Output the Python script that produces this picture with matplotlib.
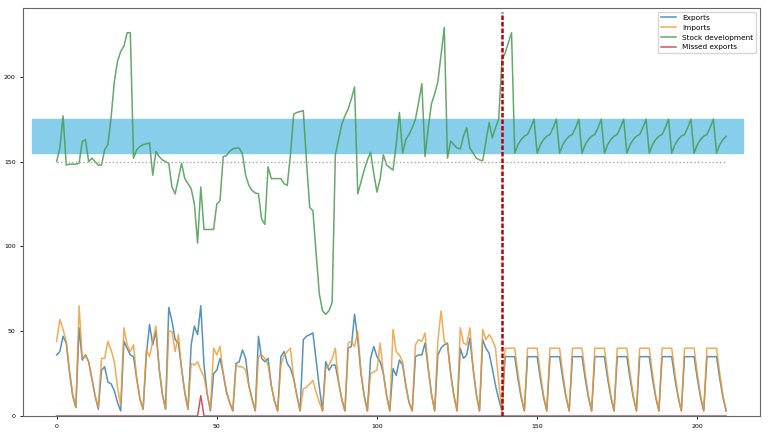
import matplotlib
matplotlib.use('Agg')
import matplotlib.pyplot as plt

days = list(range(210))

# exports per day (one row per week)
exports = [36, 38, 47, 43, 26, 12, 5,
           52, 33, 36, 32, 22, 12, 4,
           27, 29, 20, 19, 15, 8, 3,
           44, 40, 36, 35, 22, 10, 4,
           36, 54, 42, 50, 28, 13, 4,
           64, 56, 45, 43, 28, 14, 4,
           42, 53, 48, 65, 30, 13, 3,
           25, 27, 34, 25, 14, 8, 3,
           31, 32, 39, 34, 18, 10, 3,
           47, 34, 32, 34, 18, 9, 3,
           35, 38, 31, 28, 22, 12, 3,
           45, 47, 48, 49, 33, 17, 3,
           32, 27, 30, 30, 20, 10, 3,
           40, 41, 60, 45, 25, 12, 3,
           34, 41, 35, 32, 25, 12, 3,
           28, 24, 33, 30, 18, 8, 3,
           35, 36, 36, 43, 28, 13, 3,
           36, 40, 42, 43, 25, 12, 3,
           40, 34, 36, 46, 28, 13, 3,
           45, 40, 37, 28, 18, 10, 3,
           35, 35, 35, 35, 22, 11, 3,
           35, 35, 35, 35, 22, 11, 3,
           35, 35, 35, 35, 22, 11, 3,
           35, 35, 35, 35, 22, 11, 3,
           35, 35, 35, 35, 22, 11, 3,
           35, 35, 35, 35, 22, 11, 3,
           35, 35, 35, 35, 22, 11, 3,
           35, 35, 35, 35, 22, 11, 3,
           35, 35, 35, 35, 22, 11, 3,
           35, 35, 35, 35, 22, 11, 3]

imports = [44, 57, 51, 44, 27, 13, 5,
           65, 34, 36, 32, 22, 12, 5,
           34, 34, 44, 39, 32, 17, 6,
           52, 42, 38, 42, 22, 10, 4,
           39, 35, 44, 53, 28, 13, 4,
           50, 50, 38, 48, 28, 14, 4,
           31, 30, 32, 27, 23, 13, 4,
           40, 36, 41, 25, 15, 8, 3,
           30, 29, 29, 27, 18, 10, 3,
           35, 36, 34, 30, 18, 9, 3,
           30, 36, 38, 40, 22, 12, 3,
           16, 17, 19, 21, 14, 8, 3,
           28, 30, 34, 40, 20, 10, 3,
           43, 44, 41, 50, 26, 12, 3,
           25, 26, 27, 43, 25, 12, 3,
           51, 38, 36, 32, 18, 8, 3,
           42, 45, 44, 49, 28, 13, 3,
           44, 62, 44, 42, 25, 12, 3,
           52, 43, 42, 52, 28, 13, 3,
           51, 45, 48, 45, 40, 20, 3,
           40, 40, 40, 40, 25, 12, 3,
           40, 40, 40, 40, 25, 12, 3,
           40, 40, 40, 40, 25, 12, 3,
           40, 40, 40, 40, 25, 12, 3,
           40, 40, 40, 40, 25, 12, 3,
           40, 40, 40, 40, 25, 12, 3,
           40, 40, 40, 40, 25, 12, 3,
           40, 40, 40, 40, 25, 12, 3,
           40, 40, 40, 40, 25, 12, 3,
           40, 40, 40, 40, 25, 12, 3]

stock = [150, 158, 177, 148, 148.5, 148.5, 148.5,
         149, 162, 163, 150, 152, 150, 148,
         148, 157, 160, 176, 197, 209, 215,
         218, 226, 226, 152, 157, 159, 160,
         160.5, 161, 142, 156, 153, 151, 150,
         149, 135, 131, 140, 149, 140, 137,
         134, 125, 102, 135, 110, 110, 110,
         110, 125, 127, 153, 153.5, 156, 157.5,
         158, 158, 154.5, 142, 136, 133, 131.5,
         131, 116, 113, 147, 140, 140, 140,
         140, 137, 136, 154.5, 178, 179, 179.5,
         180, 150, 123, 121, 96, 72, 62,
         60, 62, 67, 154, 163, 172, 177,
         181, 187, 194, 131, 138, 145, 151,
         155.5, 143, 132, 140, 154, 148, 146.5,
         145, 160, 179, 155, 163, 166, 170,
         175, 185, 196, 153, 170, 184, 190,
         197, 213, 229, 152, 162, 160, 158,
         157.5, 165, 170, 158, 155, 152, 151,
         150.5, 162, 173, 164, 170, 175, 210,
         214, 220, 226,
         155, 160, 163, 165, 166, 170, 175,
         155, 160, 163, 165, 166, 170, 175,
         155, 160, 163, 165, 166, 170, 175,
         155, 160, 163, 165, 166, 170, 175,
         155, 160, 163, 165, 166, 170, 175,
         155, 160, 163, 165, 166, 170, 175,
         155, 160, 163, 165, 166, 170, 175,
         155, 160, 163, 165, 166, 170, 175,
         155, 160, 163, 165, 166, 170, 175,
         155, 160, 163, 165]

missed = [0, 0, 0, 0, 0, 0, 0,
          0, 0, 0, 0, 0, 0, 0,
          0, 0, 0, 0, 0, 0, 0,
          0, 0, 0, 0, 0, 0, 0,
          0, 0, 0, 0, 0, 0, 0,
          0, 0, 0, 0, 0, 0, 0,
          0, 0, 0, 12, 0, 0, 0,
          0, 0, 0, 0, 0, 0, 0,
          0, 0, 0, 0, 0, 0, 0,
          0, 0, 0, 0, 0, 0, 0,
          0, 0, 0, 0, 0, 0, 0,
          0, 0, 0, 0, 0, 0, 0,
          0, 0, 0, 0, 0, 0, 0,
          0, 0, 0, 0, 0, 0, 0,
          0, 0, 0, 0, 0, 0, 0,
          0, 0, 0, 0, 0, 0, 0,
          0, 0, 0, 0, 0, 0, 0,
          0, 0, 0, 0, 0, 0, 0,
          0, 0, 0, 0, 0, 0, 0,
          0, 0, 0, 0, 0, 0, 0,
          0, 0, 0, 0, 0, 0, 0,
          0, 0, 0, 0, 0, 0, 0,
          0, 0, 0, 0, 0, 0, 0,
          0, 0, 0, 0, 0, 0, 0,
          0, 0, 0, 0, 0, 0, 0,
          0, 0, 0, 0, 0, 0, 0,
          0, 0, 0, 0, 0, 0, 0,
          0, 0, 0, 0, 0, 0, 0,
          0, 0, 0, 0, 0, 0, 0,
          0, 0, 0, 0, 0, 0, 0]

band_low, band_high = 155, 175
stock_min = 150
forecast_start = 139

fig = plt.figure(figsize=(7.72, 4.32), dpi=100)
ax = fig.add_axes([0.030, 0.037, 0.954, 0.944])
ax.plot(days, exports, label='Exports', lw=1.1, color='#3a7fb0', alpha=0.85)
ax.plot(days, imports, label='Imports', lw=1.1, color='#f0962e', alpha=0.8)
ax.plot(days, stock, label='Stock development', lw=1.1, color='#4a9a52', alpha=0.85)
ax.plot(days, missed, label='Missed exports', lw=1.1, color='#c9364a', alpha=0.85)
ax.axhspan(band_low, band_high, xmin=0.012, xmax=0.977, color='skyblue', zorder=0)
ax.hlines(stock_min, days[0], days[-1], colors='darkgray', linestyles=':', lw=1)
ax.axvline(forecast_start, ymax=0.99, color='#c00000', lw=1.8, dashes=(1.8, 0.8))
ax.set_ylim(bottom=0)
ax.set_yticks([0, 50, 100, 150, 200])
ax.tick_params(labelsize=4.5, length=2, width=0.6)
for s in ax.spines.values():
    s.set_color('#666666')
ax.legend(loc='upper right', fontsize=5.3)
fig.savefig('out.png')
